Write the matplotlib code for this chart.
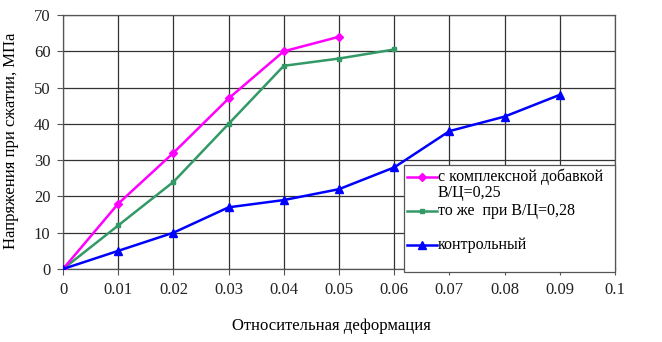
import matplotlib
matplotlib.use("Agg")
import matplotlib.pyplot as plt
from matplotlib.lines import Line2D
from matplotlib.patches import Rectangle

strain = [0, 0.01, 0.02, 0.03, 0.04, 0.05, 0.06, 0.07, 0.08, 0.09]
pink_vals = [0, 18, 32, 47, 60, 64]
green_vals = [0, 12, 24, 40, 56, 58, 60.5]
blue_vals = [0, 5, 10, 17, 19, 22, 28, 38, 42, 48]
labels = ["с комплексной добавкой\nВ/Ц=0,25", "то же  при В/Ц=0,28", "контрольный"]
xticks = [0, 0.01, 0.02, 0.03, 0.04, 0.05, 0.06, 0.07, 0.08, 0.09, 0.1]
xticklabels = ["0", "0.01", "0.02", "0.03", "0.04", "0.05", "0.06", "0.07", "0.08", "0.09", "0.1"]
yticks = [0, 10, 20, 30, 40, 50, 60, 70]

plt.rcParams['font.family'] = ['Liberation Serif', 'DejaVu Serif']

fig = plt.figure(figsize=(6.62, 3.42), dpi=100)
ax = fig.add_axes([63/662, 1-269/342, (615-63)/662, (269-15)/342])

c_pink = '#FF00FF'
c_green = '#339966'
c_blue = '#0000FF'

ax.plot(strain[:len(pink_vals)], pink_vals, color=c_pink, lw=1.8, marker='D', ms=4.5, zorder=4)
ax.plot(strain[:len(green_vals)], green_vals, color=c_green, lw=1.8, marker='s', ms=3.2, zorder=3)
ax.plot(strain[:len(blue_vals)], blue_vals, color=c_blue, lw=1.8, marker='^', ms=6, zorder=5)

ax.set_xlim(0, 0.1)
ax.set_ylim(0, 70)
ax.set_xticks(xticks)
ax.set_xticklabels(xticklabels)
ax.set_yticks(yticks)
ax.grid(True, color='#333333', lw=0.9)
ax.set_axisbelow(True)
for s in ax.spines.values():
    s.set_color('#555555')
    s.set_linewidth(0.9)
ax.tick_params(axis='both', labelsize=12, length=4, color='#555555', pad=5)
for lab in ax.get_xticklabels() + ax.get_yticklabels():
    lab.set_color('#222222')

fig.text(331/662, 1-326/342, "Относительная деформация", ha='center', va='center', fontsize=12)
fig.text(11/662, 1-141/342, "Напряжения при сжатии, МПа", ha='center', va='center',
         rotation=90, fontsize=12)

# manual legend (layout in figure pixels)
def fx(px):
    return px/662
def fy(py):
    return 1-py/342

fig.patches.append(Rectangle((fx(404), fy(272)), fx(615)-fx(404), fy(165)-fy(272),
                             transform=fig.transFigure, facecolor='white',
                             edgecolor='#555555', lw=0.9, zorder=10))
rows = [(177, c_pink, 'D', 4.5), (211, c_green, 's', 3.2), (245, c_blue, '^', 6)]
for (py, col, mk, ms), lab in zip(rows, labels):
    fig.lines.append(Line2D([fx(407), fx(437)], [fy(py), fy(py)], transform=fig.transFigure,
                            color=col, lw=1.8, zorder=11))
    fig.lines.append(Line2D([fx(422)], [fy(py)], transform=fig.transFigure,
                            color=col, marker=mk, ms=ms, zorder=12))
for py, txt in [(177, "с комплексной добавкой"), (193, "В/Ц=0,25"), (211, "то же  при В/Ц=0,28"), (245, "контрольный")]:
    fig.text(fx(438), fy(py), txt, ha='left', va='center', fontsize=11.5, zorder=12)

fig.savefig("out.png", dpi=100)
